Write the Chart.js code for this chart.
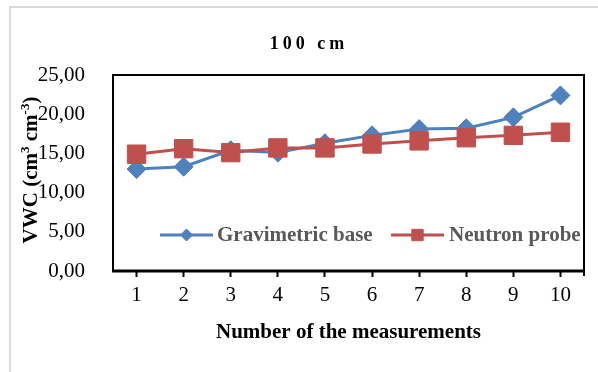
<!DOCTYPE html>
<html>
<head>
<meta charset="utf-8">
<script src="https://cdn.jsdelivr.net/npm/chart.js@4/dist/chart.umd.min.js"></script>
<style>
  html, body { margin: 0; padding: 0; background: #ffffff; }
  #wrap { position: relative; width: 598px; height: 372px; }
</style>
</head>
<body>
<div id="wrap"><canvas id="c" width="598" height="372"></canvas></div>
<script>
const categories = ['1', '2', '3', '4', '5', '6', '7', '8', '9', '10'];
const gravimetricBase = [13.0, 13.3, 15.4, 15.1, 16.3, 17.3, 18.1, 18.2, 19.6, 22.4];
const neutronProbe = [14.9, 15.6, 15.1, 15.7, 15.7, 16.2, 16.6, 17.0, 17.3, 17.7];
const yTicks = [0, 5, 10, 15, 20, 25];
const chartTitle = '100 cm';
const xTitle = 'Number of the measurements';
const seriesNames = ['Gravimetric base', 'Neutron probe'];

const BLUE = '#4F81BD';
const RED = '#C0504D';
const SERIF = '"Liberation Serif", "Times New Roman", serif';

const decorPlugin = {
  id: 'decor',
  beforeDraw(chart) {
    const ctx = chart.ctx;
    ctx.save();
    ctx.fillStyle = '#ffffff';
    ctx.fillRect(0, 0, chart.width, chart.height);
    // outer light frame
    ctx.strokeStyle = '#d9d9d9';
    ctx.lineWidth = 2;
    ctx.beginPath();
    ctx.moveTo(10, chart.height);
    ctx.lineTo(10, 7);
    ctx.lineTo(chart.width, 7);
    ctx.stroke();
    ctx.restore();
  },
  beforeDatasetsDraw(chart) {
    const ctx = chart.ctx;
    const a = chart.chartArea;
    ctx.save();
    ctx.strokeStyle = '#000000';
    ctx.lineWidth = 2;
    ctx.strokeRect(a.left, a.top, a.right - a.left, a.bottom - a.top);
    ctx.lineWidth = 3;
    ctx.beginPath();
    ctx.moveTo(a.left - 1, a.bottom);
    ctx.lineTo(a.right + 1, a.bottom);
    ctx.stroke();
    ctx.lineWidth = 2;
    ctx.beginPath();
    ctx.moveTo(a.right, a.bottom);
    ctx.lineTo(a.right, a.bottom + 5);
    ctx.stroke();
    ctx.restore();
  },
  afterDraw(chart) {
    const ctx = chart.ctx;
    const a = chart.chartArea;
    ctx.save();
    // chart title
    ctx.fillStyle = '#000000';
    ctx.font = 'bold 18px ' + SERIF;
    ctx.textAlign = 'center';
    ctx.textBaseline = 'middle';
    try { ctx.letterSpacing = '4px'; } catch (e) {}
    ctx.fillText(chartTitle, 309, 44);
    try { ctx.letterSpacing = '0px'; } catch (e) {}

    // y axis title with superscripts
    const parts = [
      { t: 'VWC (cm', s: false },
      { t: '3', s: true },
      { t: ' cm', s: false },
      { t: '-3', s: true },
      { t: ')', s: false }
    ];
    const bigF = 'bold 21px ' + SERIF;
    const smallF = 'bold 13px ' + SERIF;
    let total = 0;
    parts.forEach(p => { ctx.font = p.s ? smallF : bigF; p.w = ctx.measureText(p.t).width; total += p.w; });
    ctx.translate(30, 170);
    ctx.rotate(-Math.PI / 2);
    ctx.textAlign = 'left';
    ctx.textBaseline = 'alphabetic';
    let x = -total / 2;
    parts.forEach(p => {
      ctx.font = p.s ? smallF : bigF;
      ctx.fillText(p.t, x, p.s ? -1 : 7);
      x += p.w;
    });
    ctx.restore();

    // legend inside plot area
    ctx.save();
    const ly = 235;
    const items = [
      { x0: 160, x1: 213, tx: 217, ds: chart.data.datasets[0], style: 'rectRot', r: 6 },
      { x0: 391, x1: 444, tx: 449, ds: chart.data.datasets[1], style: 'rect', r: 8 }
    ];
    items.forEach(it => {
      ctx.strokeStyle = it.ds.borderColor;
      ctx.lineWidth = 3;
      ctx.beginPath();
      ctx.moveTo(it.x0, ly);
      ctx.lineTo(it.x1, ly);
      ctx.stroke();
      ctx.fillStyle = it.ds.backgroundColor;
      ctx.lineWidth = 1;
      Chart.helpers.drawPoint(ctx, { pointStyle: it.style, radius: it.r, borderWidth: 1, rotation: 0 }, (it.x0 + it.x1) / 2, ly);
      ctx.fillStyle = '#595959';
      ctx.font = 'bold 21px ' + SERIF;
      ctx.textAlign = 'left';
      ctx.textBaseline = 'middle';
      ctx.fillText(it.ds.label, it.tx, ly + 1);
    });
    ctx.restore();
  }
};

new Chart(document.getElementById('c'), {
  type: 'line',
  data: {
    labels: categories,
    datasets: [
      {
        label: seriesNames[0],
        data: gravimetricBase,
        borderColor: BLUE,
        backgroundColor: BLUE,
        borderWidth: 3,
        pointStyle: 'rectRot',
        pointRadius: 9.5,
        pointBorderWidth: 1,
        pointBorderColor: BLUE,
        pointBackgroundColor: BLUE,
        tension: 0,
        order: 1
      },
      {
        label: seriesNames[1],
        data: neutronProbe,
        borderColor: RED,
        backgroundColor: RED,
        borderWidth: 3,
        pointStyle: 'rect',
        pointRadius: 13,
        pointBorderWidth: 1,
        pointBorderColor: RED,
        pointBackgroundColor: RED,
        tension: 0,
        order: 0
      }
    ]
  },
  options: {
    responsive: false,
    animation: false,
    devicePixelRatio: 1,
    layout: { padding: { left: 0, top: 75, right: 11, bottom: 0 } },
    plugins: {
      legend: { display: false },
      title: { display: false },
      tooltip: { enabled: false }
    },
    scales: {
      x: {
        type: 'category',
        offset: true,
        afterFit(scale) { scale.height = 101; },
        grid: {
          display: true,
          offset: false,
          drawOnChartArea: false,
          drawTicks: true,
          tickLength: 6,
          tickWidth: 2,
          tickColor: '#000000',
          color: '#000000'
        },
        border: { display: false },
        ticks: {
          color: '#000000',
          font: { family: SERIF, size: 21 },
          padding: 6,
          maxRotation: 0,
          autoSkip: false
        },
        title: {
          display: true,
          text: xTitle,
          color: '#000000',
          font: { family: SERIF, size: 21, weight: 'bold' },
          padding: { top: 0, bottom: 27 }
        }
      },
      y: {
        min: 0,
        max: 25,
        afterFit(scale) { scale.width = 113; },
        afterBuildTicks(scale) { scale.ticks = yTicks.map(v => ({ value: v })); },
        grid: { display: false },
        border: { display: false },
        ticks: {
          color: '#000000',
          font: { family: SERIF, size: 21 },
          padding: 20,
          callback: v => Number(v).toFixed(2).replace('.', ',')
        }
      }
    }
  },
  plugins: [decorPlugin]
});
</script>
</body>
</html>
